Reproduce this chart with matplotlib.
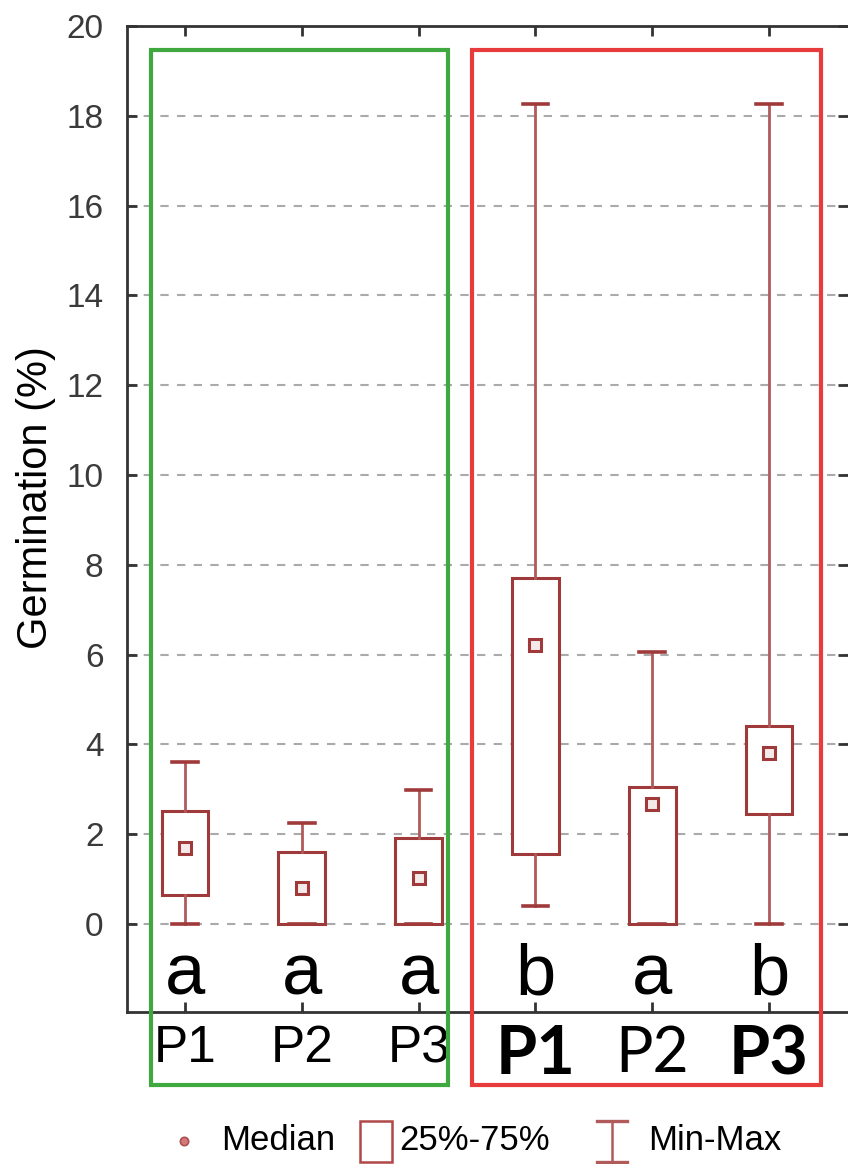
import matplotlib
matplotlib.use("Agg")
import matplotlib.pyplot as plt
from matplotlib.patches import Rectangle
from matplotlib.lines import Line2D

# ---- data ----
positions = [1, 2, 3, 4, 5, 6]
tick_labels = ["P1", "P2", "P3", "P1", "P2", "P3"]
letters = ["a", "a", "a", "b", "a", "b"]
mins = [0.0, 0.0, 0.0, 0.4, 0.0, 0.0]
q1s = [0.64, 0.0, 0.0, 1.56, 0.0, 2.44]
medians = [1.7, 0.8, 1.02, 6.22, 2.67, 3.8]
q3s = [2.52, 1.6, 1.92, 7.7, 3.05, 4.4]
maxs = [3.6, 2.24, 2.98, 18.26, 6.06, 18.26]
yticks = [0, 2, 4, 6, 8, 10, 12, 14, 16, 18, 20]

W, H = 848, 1164
fig = plt.figure(figsize=(W / 100, H / 100), dpi=100)
fig.patch.set_facecolor("white")

def fx(px):
    return px / W

def fy(py):
    return 1 - py / H

ax = fig.add_axes([fx(127), fy(1012), fx(848) - fx(127), fy(26) - fy(1012)])

box_col = "#a03a3a"
whisk_col = "#b05a5a"

stats = []
for i in range(len(positions)):
    stats.append(dict(med=medians[i], q1=q1s[i], q3=q3s[i],
                      whislo=mins[i], whishi=maxs[i], fliers=[]))

ax.bxp(stats, positions=positions, widths=0.4, capwidths=0.22,
       patch_artist=True, showfliers=False,
       boxprops=dict(facecolor="white", edgecolor=box_col, linewidth=2.2),
       whiskerprops=dict(color=whisk_col, linewidth=2.0),
       capprops=dict(color=box_col, linewidth=2.6),
       medianprops=dict(linewidth=0),
       zorder=3)

ax.plot(positions, medians, linestyle="none", marker="s", markersize=8,
        markerfacecolor="#f5eaea", markeredgecolor=box_col,
        markeredgewidth=2.2, zorder=4)

ax.set_xlim(0.503, 6.676)
ax.set_ylim(-1.96, 20)

# grid
for y in yticks[:-1]:
    ax.axhline(y, color="#aaaaaa", linewidth=1.5, linestyle=(0, (4, 4)), zorder=1)

# spines / ticks
for s in ["left", "top", "bottom"]:
    ax.spines[s].set_color("#333333")
    ax.spines[s].set_linewidth(2.0)
ax.spines["right"].set_visible(False)

ax.set_yticks(yticks)
ax.set_yticklabels([str(v) for v in yticks], fontsize=24,
                   family="Liberation Sans", color="#3a3a3a")
ax.tick_params(axis="y", direction="in", length=7, width=2.0,
               color="#333333", right=True, pad=17)
ax.set_xticks(positions)
ax.set_xticklabels(tick_labels)
ax.tick_params(axis="x", direction="in", length=7, width=2.0,
               color="#333333", top=True, pad=9)

lab_styles = [
    dict(family="Liberation Sans", size=37, weight="normal"),
    dict(family="Liberation Sans", size=37, weight="normal"),
    dict(family="Liberation Sans", size=37, weight="normal"),
    dict(family="Lato", size=48, weight="bold"),
    dict(family="Lato", size=45, weight="normal"),
    dict(family="Lato", size=48, weight="bold"),
]
for lbl, st in zip(ax.get_xticklabels(), lab_styles):
    lbl.set_fontfamily(st["family"])
    lbl.set_fontsize(st["size"])
    lbl.set_fontweight(st["weight"])
    lbl.set_color("black")

ax.set_ylabel("Germination (%)", fontsize=30, family="Liberation Sans")
ax.yaxis.set_label_coords((56 - 127) / (848 - 127), (1012 - 498) / (1012 - 26))

# group letters
for x, t in zip(positions, letters):
    ax.text(x, -1.56, t, ha="center", va="baseline", fontsize=52,
            family="Liberation Sans", color="black", zorder=5)

# group frames (figure coordinates)
green = Rectangle((fx(151), fy(1085)), fx(448) - fx(151), fy(50) - fy(1085),
                  transform=fig.transFigure, fill=False,
                  edgecolor="#3fa83f", linewidth=3.0, zorder=10)
red = Rectangle((fx(472), fy(1085)), fx(821) - fx(472), fy(50) - fy(1085),
                transform=fig.transFigure, fill=False,
                edgecolor="#e83c3c", linewidth=3.0, zorder=10)
fig.add_artist(green)
fig.add_artist(red)

# legend (figure coordinates)
ly = fy(1141)
fig.add_artist(Line2D([fx(184)], [ly], marker="o", markersize=6,
                      markerfacecolor="#d07a7a", markeredgecolor="#b05050",
                      markeredgewidth=1.2, transform=fig.transFigure))
fig.text(fx(221), ly, "Median", fontsize=25, family="Liberation Sans",
         va="center", ha="left")
fig.add_artist(Rectangle((fx(360), fy(1162)), fx(392) - fx(360),
                         fy(1121) - fy(1162), transform=fig.transFigure,
                         fill=False, edgecolor="#b04848", linewidth=1.8))
fig.text(fx(399), ly, "25%-75%", fontsize=25, family="Liberation Sans",
         va="center", ha="left")
fig.add_artist(Line2D([fx(612), fx(612)], [fy(1121), fy(1162)],
                      color="#b05a5a", linewidth=1.8, transform=fig.transFigure))
fig.add_artist(Line2D([fx(597), fx(627)], [fy(1121), fy(1121)],
                      color="#b05a5a", linewidth=2.4, transform=fig.transFigure))
fig.add_artist(Line2D([fx(597), fx(627)], [fy(1162), fy(1162)],
                      color="#b05a5a", linewidth=2.4, transform=fig.transFigure))
fig.text(fx(648), ly, "Min-Max", fontsize=25, family="Liberation Sans",
         va="center", ha="left")

fig.savefig("out.png", dpi=100)
